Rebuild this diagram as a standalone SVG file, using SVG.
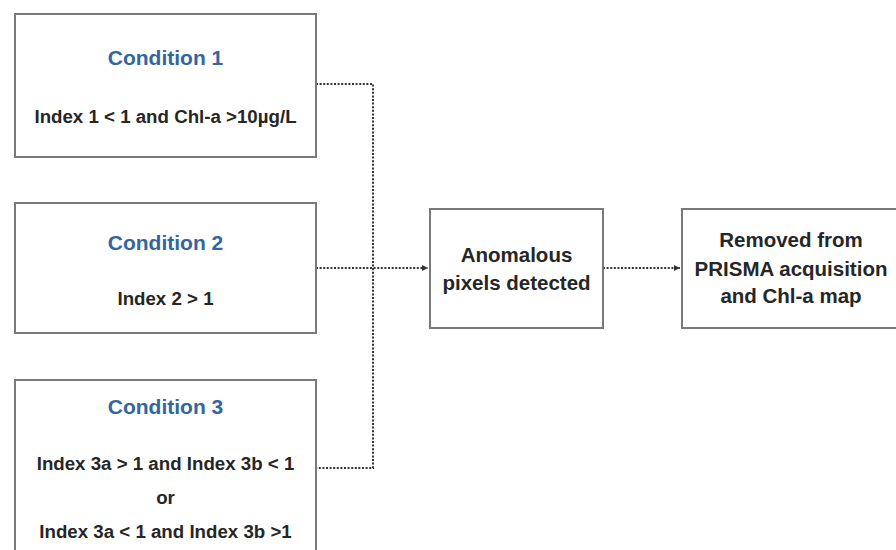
<svg xmlns="http://www.w3.org/2000/svg" width="896" height="550" viewBox="0 0 896 550">
<defs>
<style>
.box{fill:#fff;stroke:#7a7a7a;stroke-width:2}
.t{font-family:"Liberation Sans",Arial,sans-serif;font-weight:bold;text-anchor:middle;fill:#262626}
.h{font-family:"Liberation Sans",Arial,sans-serif;font-weight:bold;text-anchor:middle;fill:#3465a0;font-size:21px}
.c{fill:none;stroke:#333;stroke-width:2;stroke-dasharray:2 1.6}
</style>
<marker id="ah" markerWidth="8" markerHeight="8" refX="6" refY="4" orient="auto" markerUnits="userSpaceOnUse">
<path d="M0,1 L6,4 L0,7 Z" fill="#333"/>
</marker>
</defs>
<rect width="896" height="550" fill="#fff"/>
<g id="connectors">
<path class="c" d="M316,84 H373 V468 H316"/>
<path class="c" d="M316,268 H428" marker-end="url(#ah)"/>
<path class="c" d="M603,268 H680" marker-end="url(#ah)"/>
</g>
<g id="cond1">
<rect class="box" x="15" y="14" width="301" height="143"/>
<text class="h" x="165.5" y="65">Condition 1</text>
<text class="t" x="165.5" y="123" font-size="18.7">Index 1 &lt; 1 and Chl-a &gt;10µg/L</text>
</g>
<g id="cond2">
<rect class="box" x="15" y="203" width="301" height="130"/>
<text class="h" x="165.5" y="250">Condition 2</text>
<text class="t" x="165.5" y="305" font-size="18.7">Index 2 &gt; 1</text>
</g>
<g id="cond3">
<rect class="box" x="15" y="380" width="301" height="190"/>
<text class="h" x="165.5" y="414">Condition 3</text>
<text class="t" x="165.5" y="470" font-size="18.7">Index 3a &gt; 1 and Index 3b &lt; 1</text>
<text class="t" x="165.5" y="504" font-size="18.7">or</text>
<text class="t" x="165.5" y="538" font-size="18.7">Index 3a &lt; 1 and Index 3b &gt;1</text>
</g>
<g id="anomalous">
<rect class="box" x="430" y="209" width="173" height="119"/>
<text class="t" x="516.5" y="262" font-size="20.5">Anomalous</text>
<text class="t" x="516.5" y="290" font-size="20.5">pixels detected</text>
</g>
<g id="removed">
<rect class="box" x="682" y="209" width="230" height="119"/>
<text class="t" x="791" y="247" font-size="20.5">Removed from</text>
<text class="t" x="791" y="276" font-size="20.5">PRISMA acquisition</text>
<text class="t" x="791" y="303" font-size="20.5">and Chl-a map</text>
</g>
</svg>
